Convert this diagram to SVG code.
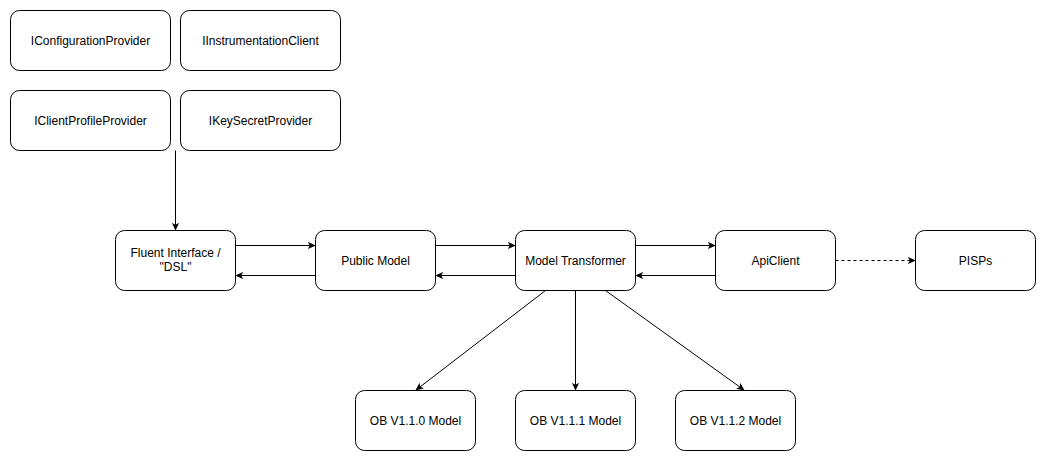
<svg xmlns="http://www.w3.org/2000/svg" width="1046" height="461" viewBox="0 0 1046 461">
<style>
.n rect{fill:#fff;stroke:#000;stroke-width:1}
.n text{font-family:"Liberation Sans",Arial,sans-serif;font-size:12px;fill:#000;text-anchor:middle}
.c path{fill:none;stroke:#000;stroke-width:1}
.c .d{stroke-dasharray:3 3}
</style>
<defs>
<marker id="a" viewBox="0 0 10 10" refX="9" refY="5" markerWidth="8" markerHeight="8" markerUnits="userSpaceOnUse" orient="auto">
<path d="M0,0.5 L10,5 L0,9.5 L2.5,5 z" fill="#000" stroke="none"/>
</marker>
</defs>
<rect width="1046" height="461" fill="#fff"/>
<g id="n1" class="n"><rect x="10.5" y="10.5" width="160" height="60" rx="9"/><text x="90.5" y="44.5">IConfigurationProvider</text></g>
<g id="n2" class="n"><rect x="180.5" y="10.5" width="160" height="60" rx="9"/><text x="260.5" y="44.5">IInstrumentationClient</text></g>
<g id="n3" class="n"><rect x="10.5" y="90.5" width="160" height="60" rx="9"/><text x="90.5" y="124.5">IClientProfileProvider</text></g>
<g id="n4" class="n"><rect x="180.5" y="90.5" width="160" height="60" rx="9"/><text x="260.5" y="124.5">IKeySecretProvider</text></g>
<g id="n5" class="n"><rect x="115.5" y="230.5" width="120" height="60" rx="9"/><text x="175.5" y="256.5">Fluent Interface /</text><text x="175.5" y="270.5">"DSL"</text></g>
<g id="n6" class="n"><rect x="315.5" y="230.5" width="120" height="60" rx="9"/><text x="375.5" y="264.5">Public Model</text></g>
<g id="n7" class="n"><rect x="515.5" y="230.5" width="120" height="60" rx="9"/><text x="575.5" y="264.5">Model Transformer</text></g>
<g id="n8" class="n"><rect x="715.5" y="230.5" width="120" height="60" rx="9"/><text x="775.5" y="264.5">ApiClient</text></g>
<g id="n9" class="n"><rect x="915.5" y="230.5" width="120" height="60" rx="9"/><text x="975.5" y="264.5">PISPs</text></g>
<g id="n10" class="n"><rect x="355.5" y="390.5" width="120" height="60" rx="9"/><text x="415.5" y="424.5">OB V1.1.0 Model</text></g>
<g id="n11" class="n"><rect x="515.5" y="390.5" width="120" height="60" rx="9"/><text x="575.5" y="424.5">OB V1.1.1 Model</text></g>
<g id="n12" class="n"><rect x="675.5" y="390.5" width="120" height="60" rx="9"/><text x="735.5" y="424.5">OB V1.1.2 Model</text></g>
<g id="connectors" class="c">
<path d="M175.5,150.5 L175.5,230" marker-end="url(#a)"/>
<path d="M235.5,245.5 L315,245.5" marker-end="url(#a)"/>
<path d="M315.5,275.5 L236,275.5" marker-end="url(#a)"/>
<path d="M435.5,245.5 L515,245.5" marker-end="url(#a)"/>
<path d="M515.5,275.5 L436,275.5" marker-end="url(#a)"/>
<path d="M635.5,245.5 L715,245.5" marker-end="url(#a)"/>
<path d="M715.5,275.5 L636,275.5" marker-end="url(#a)"/>
<path class="d" d="M835.5,260.5 L915,260.5" marker-end="url(#a)"/>
<path d="M545.5,290.5 L416,390" marker-end="url(#a)"/>
<path d="M575.5,290.5 L575.5,390" marker-end="url(#a)"/>
<path d="M605.5,290.5 L744,390" marker-end="url(#a)"/>
</g>
</svg>
